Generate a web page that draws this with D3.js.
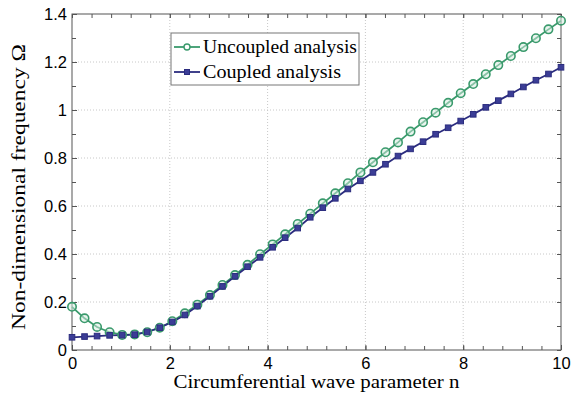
<!DOCTYPE html>
<html><head><meta charset="utf-8">
<script src="https://cdn.jsdelivr.net/npm/d3@7"></script>
<style>body{margin:0;background:#fff}</style>
</head><body>
<svg id="c" width="572" height="401"></svg>
<script>
const nCount = 40; // n sampled evenly from 0 to 10 (40 samples)
const nMin = 0, nMax = 10;
const uncoupled = [0.180,0.132,0.096,0.074,0.063,0.065,0.074,0.093,0.120,0.153,
  0.189,0.229,0.271,0.312,0.355,0.399,0.440,0.482,0.525,0.568,
  0.611,0.653,0.695,0.740,0.782,0.824,0.865,0.910,0.949,0.989,
  1.030,1.070,1.108,1.149,1.187,1.225,1.262,1.299,1.336,1.372];
const coupled = [0.053,0.056,0.058,0.061,0.062,0.064,0.075,0.093,0.117,0.146,
  0.183,0.224,0.265,0.307,0.347,0.386,0.428,0.468,0.508,0.553,
  0.593,0.632,0.671,0.705,0.740,0.774,0.808,0.838,0.868,0.899,
  0.926,0.954,0.982,1.011,1.039,1.067,1.096,1.124,1.150,1.178];
const xTicks = [0,2,4,6,8,10];
const yTicks = [0,0.2,0.4,0.6,0.8,1,1.2,1.4];
const xMinor = d3.range(0,10.001,0.4);
const yMinor = d3.range(0,1.4001,0.1);
const seriesNames = ["Uncoupled analysis","Coupled analysis"];
const colors = ["#3a9a6c","#2b2c7e"];

const nVals = d3.range(nCount).map(i => nMin + i*(nMax-nMin)/(nCount-1));
const svg = d3.select("#c");
const L=72,R=561,T=14,B=350;
const x = d3.scaleLinear().domain([0,10]).range([L,R]);
const y = d3.scaleLinear().domain([0,1.4]).range([B,T]);

// grid
const g = svg.append("g");
g.selectAll(".gx").data(xTicks.slice(1,-1)).join("line")
 .attr("x1",d=>x(d)).attr("x2",d=>x(d)).attr("y1",T).attr("y2",B)
 .attr("stroke","#c8c8c8").attr("stroke-width",1).attr("stroke-dasharray","1,2");
g.selectAll(".gy").data(yTicks.slice(1,-1)).join("line")
 .attr("y1",d=>y(d)).attr("y2",d=>y(d)).attr("x1",L).attr("x2",R)
 .attr("stroke","#c8c8c8").attr("stroke-width",1).attr("stroke-dasharray","1,2");

// axes via d3 axis with inward ticks
const axCol="#555";
function styleAxis(sel){sel.select(".domain").remove();sel.selectAll("line").attr("stroke",axCol);}
const fontSans="'Liberation Sans', Arial, sans-serif";
const xb = svg.append("g").attr("transform",`translate(0,${B})`)
 .call(d3.axisBottom(x).tickValues(xTicks).tickSize(-5).tickPadding(7).tickFormat(d3.format("d")));
styleAxis(xb); xb.selectAll("text").attr("font-family",fontSans).attr("font-size",16.5).attr("fill","#000");
const xbm = svg.append("g").attr("transform",`translate(0,${B})`).call(d3.axisBottom(x).tickValues(xMinor).tickSize(-4).tickFormat(""));
styleAxis(xbm);
const xtm = svg.append("g").attr("transform",`translate(0,${T})`).call(d3.axisTop(x).tickValues(xMinor.concat(xTicks)).tickSize(-4).tickFormat(""));
styleAxis(xtm);
const yl = svg.append("g").attr("transform",`translate(${L},0)`)
 .call(d3.axisLeft(y).tickValues(yTicks).tickSize(-5).tickPadding(5).tickFormat(d=>d===0?"0":d3.format("~g")(d)));
styleAxis(yl); yl.selectAll("text").attr("font-family",fontSans).attr("font-size",16.5).attr("fill","#000");
const ylm = svg.append("g").attr("transform",`translate(${L},0)`).call(d3.axisLeft(y).tickValues(yMinor).tickSize(-4).tickFormat(""));
styleAxis(ylm);
const yrm = svg.append("g").attr("transform",`translate(${R},0)`).call(d3.axisRight(y).tickValues(yMinor).tickSize(-4).tickFormat(""));
styleAxis(yrm);
svg.append("rect").attr("x",L).attr("y",T).attr("width",R-L).attr("height",B-T)
 .attr("fill","none").attr("stroke",axCol).attr("stroke-width",1);

// lines
const line = d3.line().x((d,i)=>x(nVals[i])).y(d=>y(d));
const data=[uncoupled,coupled];
data.forEach((s,k)=>{
  svg.append("path").attr("d",line(s)).attr("fill","none").attr("stroke",colors[k]).attr("stroke-width",1.8);
});
svg.append("g").selectAll("circle").data(uncoupled).join("circle")
 .attr("cx",(d,i)=>x(nVals[i])).attr("cy",d=>y(d)).attr("r",4.2)
 .attr("fill","#d6ece0").attr("fill-opacity",0.5).attr("stroke",colors[0]).attr("stroke-width",1.6);
svg.append("g").selectAll("rect").data(coupled).join("rect")
 .attr("x",(d,i)=>x(nVals[i])-2.8).attr("y",d=>y(d)-2.8).attr("width",5.6).attr("height",5.6)
 .attr("fill","#3b3d96").attr("stroke",colors[1]).attr("stroke-width",1);

// legend
const fontSerif="'Liberation Serif','Times New Roman',serif";
const lg = svg.append("g");
lg.append("rect").attr("x",171).attr("y",33).attr("width",188).attr("height",52)
 .attr("fill","#fff").attr("stroke","#777").attr("stroke-width",1);
[47,72].forEach((ly,k)=>{
  lg.append("line").attr("x1",174).attr("x2",200).attr("y1",ly).attr("y2",ly).attr("stroke",colors[k]).attr("stroke-width",1.8);
  if(k===0) lg.append("circle").attr("cx",187).attr("cy",ly).attr("r",3).attr("fill","#fff").attr("stroke",colors[0]).attr("stroke-width",1.4);
  else lg.append("rect").attr("x",184.5).attr("y",ly-2.5).attr("width",5).attr("height",5).attr("fill","#3b3d96").attr("stroke",colors[1]);
  lg.append("text").attr("x",203).attr("y",ly+6).attr("font-family",fontSerif).attr("font-size",19)
   .attr("textLength",k===0?154:138).attr("lengthAdjust","spacingAndGlyphs").text(seriesNames[k]);
});

// axis labels
svg.append("text").attr("x",(L+R)/2).attr("y",388).attr("text-anchor","middle")
 .attr("font-family",fontSerif).attr("font-size",18).attr("textLength",286).attr("lengthAdjust","spacingAndGlyphs")
 .text("Circumferential wave parameter n");
svg.append("text").attr("transform","translate(25,187) rotate(-90)").attr("text-anchor","middle")
 .attr("font-family",fontSerif).attr("font-size",19).attr("textLength",286).attr("lengthAdjust","spacingAndGlyphs")
 .text("Non-dimensional frequency Ω");
</script>
</body></html>
